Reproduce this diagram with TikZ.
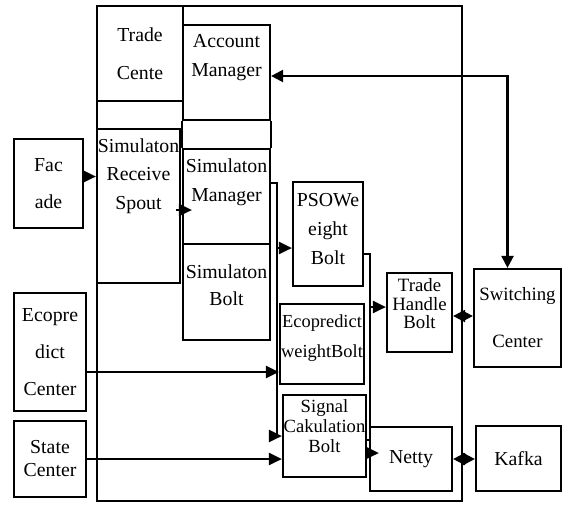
\documentclass[tikz,border=0pt]{standalone}
\usepackage{fontspec}
\setmainfont{Liberation Serif}
\usetikzlibrary{arrows.meta}
\tikzstyle{block} = [rectangle, draw, line width=1.1pt, inner sep=0pt,
    align=center, font=\fontsize{9.9}{10}\selectfont]
\tikzstyle{line} = [draw, line width=1.1pt, -{Triangle[length=6.5pt,width=6pt]}]
\tikzstyle{dline} = [draw, line width=1.1pt,
    {Triangle[length=6pt,width=6pt]}-{Triangle[length=6pt,width=6pt]}]
\tikzstyle{bus} = [draw, line width=1.1pt]
\tikzset{wh/.style 2 args={minimum width=#1*0.5pt, minimum height=#2*0.5pt}}
\begin{document}
\begin{tikzpicture}[x=0.5pt,y=-0.5pt]
    \useasboundingbox (0,0) rectangle (571,505);

    % topology frame and its boxes
    \node [block,wh={365}{495}] (topo) at (279.5,253.5) {};
    \node [block,wh={86}{95}] (trade) at (140,53.5) {Trade\\[9pt]Cente};
    \node [block,wh={87}{95},text depth=17pt] (acct) at (226.5,72.5) {Account\\[4.5pt]Manager};
    \node [block,wh={87}{95},text depth=16pt] (simmgr) at (226.5,196.5) {Simulaton\\[4.5pt]Manager};
    \node [block,wh={87}{96},text depth=6.5pt] (simbolt) at (226.5,292) {Simulaton\\[3.5pt]Bolt};
    \node [block,wh={83}{154},text depth=32pt] (spout) at (138.5,206) {Simulaton\\[4.25pt]Receive\\[4.25pt]Spout};
    \node [block,wh={70}{104},text depth=5pt] (pso) at (328,234) {PSOWe\\[4.5pt]eight\\[4.5pt]Bolt};
    \node [block,wh={84}{80},text depth=8pt,font=\fontsize{9.2}{10}\selectfont] (ecow) at (322,344) {Ecopredict\\[5pt]weightBolt};
    \node [block,wh={83}{82},text depth=10pt,font=\fontsize{9.3}{10}\selectfont] (signal) at (324.5,436) {Signal\\Cakulation\\Bolt};
    \node [block,wh={65}{79},text depth=9pt,font=\fontsize{9.4}{9.3}\selectfont] (handle) at (419.5,312.5) {Trade\\Handle\\Bolt};
    \node [block,wh={82}{64}] (netty) at (411,459) {Netty};

    % outside
    \node [block,wh={69}{89}] (facade) at (48.5,183.5) {Fac\\[8.5pt]ade};
    \node [block,wh={72}{118}] (ecoc) at (50,352) {Ecopre\\[8.5pt]dict\\[8.5pt]Center};
    \node [block,wh={72}{76}] (state) at (50,459) {State\\[1.5pt]Center};
    \node [block,wh={87}{98},font=\fontsize{9.4}{10}\selectfont] (swc) at (517.5,318) {Switching\\[13.5pt]Center};
    \node [block,wh={85}{65}] (kafka) at (518.5,458.5) {Kafka};

    \path [bus] (acct.south west) -- (simmgr.north west);
    \path [bus] (acct.south east) -- (simmgr.north east);

    % Draw edges
    \path [line] ([yshift=3.5pt]facade.east) -- ([yshift=3.5pt]facade.east -| spout.west);
    \path [line] ([shift={(-2.5pt,-2pt)}]spout.east) -- ([shift={(5pt,-2pt)}]spout.east -| simmgr.west);
    \path [dline] ([yshift=-1.75pt]acct.east) -| ([xshift=-5pt]swc.north);
    \path [dline] ([yshift=-1.75pt]handle.east) -- ([yshift=-1.75pt]handle.east -| swc.west);
    \path [dline] (netty.east) -- (netty.east -| kafka.west);
    \path [line] ([yshift=-10pt]ecoc.east) -- ([yshift=-10pt]ecoc.east -| ecow.west);
    \path [line] (state.east) -- (state.east -| signal.west);
    \path [line] ([yshift=6.75pt]simmgr.east) -- ++(3pt,0) coordinate (busa) |- (signal.west);
    \path [line] ([yshift=-7pt]pso.west -| busa) -- ([yshift=-7pt]pso.west);
    \path [bus] ([yshift=-10pt]pso.east) -- ++(3pt,0) coordinate (busb) |- ([yshift=-2pt]signal.east);
    \path [line] ([yshift=2.75pt]handle.west -| busb) -- ([yshift=2.75pt]handle.west);
    \path [line] ([yshift=-8.5pt]signal.east) -- ([shift={(5pt,-8.5pt)}]signal.east -| netty.west);

\end{tikzpicture}
\end{document}
